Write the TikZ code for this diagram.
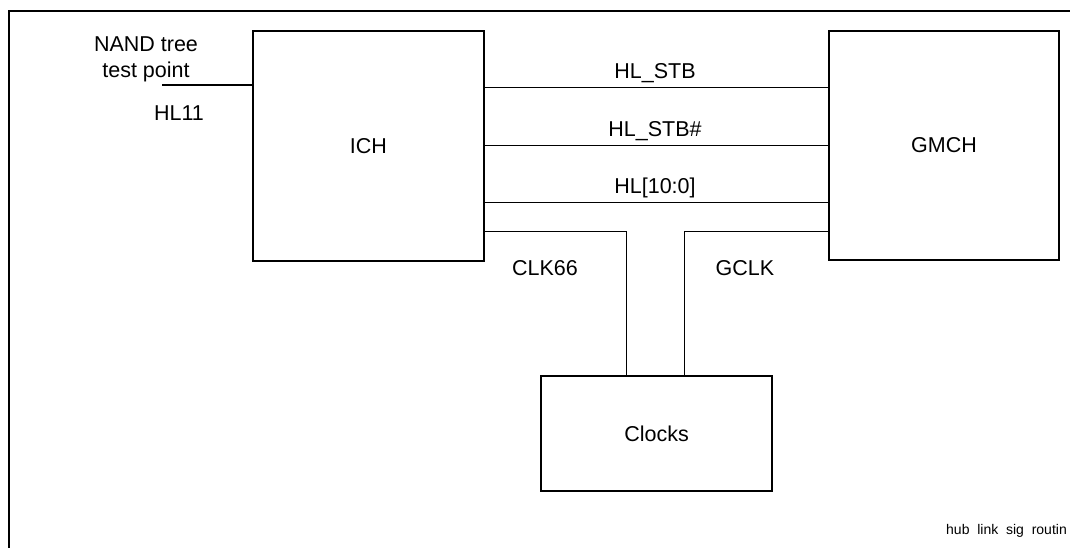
\documentclass[tikz,border=0pt]{standalone}
\usepackage{fontspec}
\setmainfont{Liberation Sans}
\usetikzlibrary{positioning}

\begin{document}
\begin{tikzpicture}[x=1pt,y=-1pt,
  font=\fontsize{21.5}{26}\selectfont,
  block/.style={draw,line width=1.3pt,inner sep=0pt},
  wire/.style={line width=1.1pt},
  lbl/.style={inner sep=0pt}]
  \useasboundingbox (0,0) rectangle (1070,548);
  % 1. the outer frame (only top and left edge show)
  \draw[line width=2pt] (9,548) -- (9,11) -- (1070,11);
  % 2. the three blocks
  \node[block,minimum width=231pt,minimum height=230pt] (ICH) at (368.5,146) {ICH};
  \node[block,minimum width=230pt,minimum height=229pt] (GMCH) at (944,145.5) {GMCH};
  \node[block,minimum width=231pt,minimum height=115pt] (Clocks) at (656.5,433.5) {Clocks};
  % 3. hub link signals between ICH and GMCH
  \draw[wire] ([yshift=-57pt]ICH.north east) -- ([yshift=-57pt]GMCH.north west);
  \draw[wire] ([yshift=-115pt]ICH.north east) -- ([yshift=-115pt]GMCH.north west);
  \draw[wire] ([yshift=-172pt]ICH.north east) -- ([yshift=-172pt]GMCH.north west);
  \node[lbl] (stb) at (655,73) {HL\_STB};
  \node[lbl] (stbn) at (655,131) {HL\_STB\#};
  \node[lbl] (hl) at (655,188) {HL[10:0]};
  % 4. clock lines down to the clock block
  \draw[wire] ([yshift=-201pt]ICH.north east) -| ([xshift=86pt]Clocks.north west);
  \draw[wire] ([yshift=-201pt]GMCH.north west) -| ([xshift=144pt]Clocks.north west);
  \node[lbl] (clk) at (545,268) {CLK66};
  \node[lbl] (gclk) at (745,268) {GCLK};
  % 5. NAND tree test point on the left
  \coordinate (tp) at (162,85);
  \draw[wire] (tp) -- (tp -| ICH.west);
  \node[lbl,align=center] (nand) at (146,59) {NAND tree\\test point};
  \node[lbl] (hl11) at (179,113) {HL11};
  % file tag
  \node[lbl,font=\fontsize{14}{16}\selectfont] (tag) at (1006.5,531) {hub\ \ link\ \ sig\ \ routin};
\end{tikzpicture}
\end{document}
